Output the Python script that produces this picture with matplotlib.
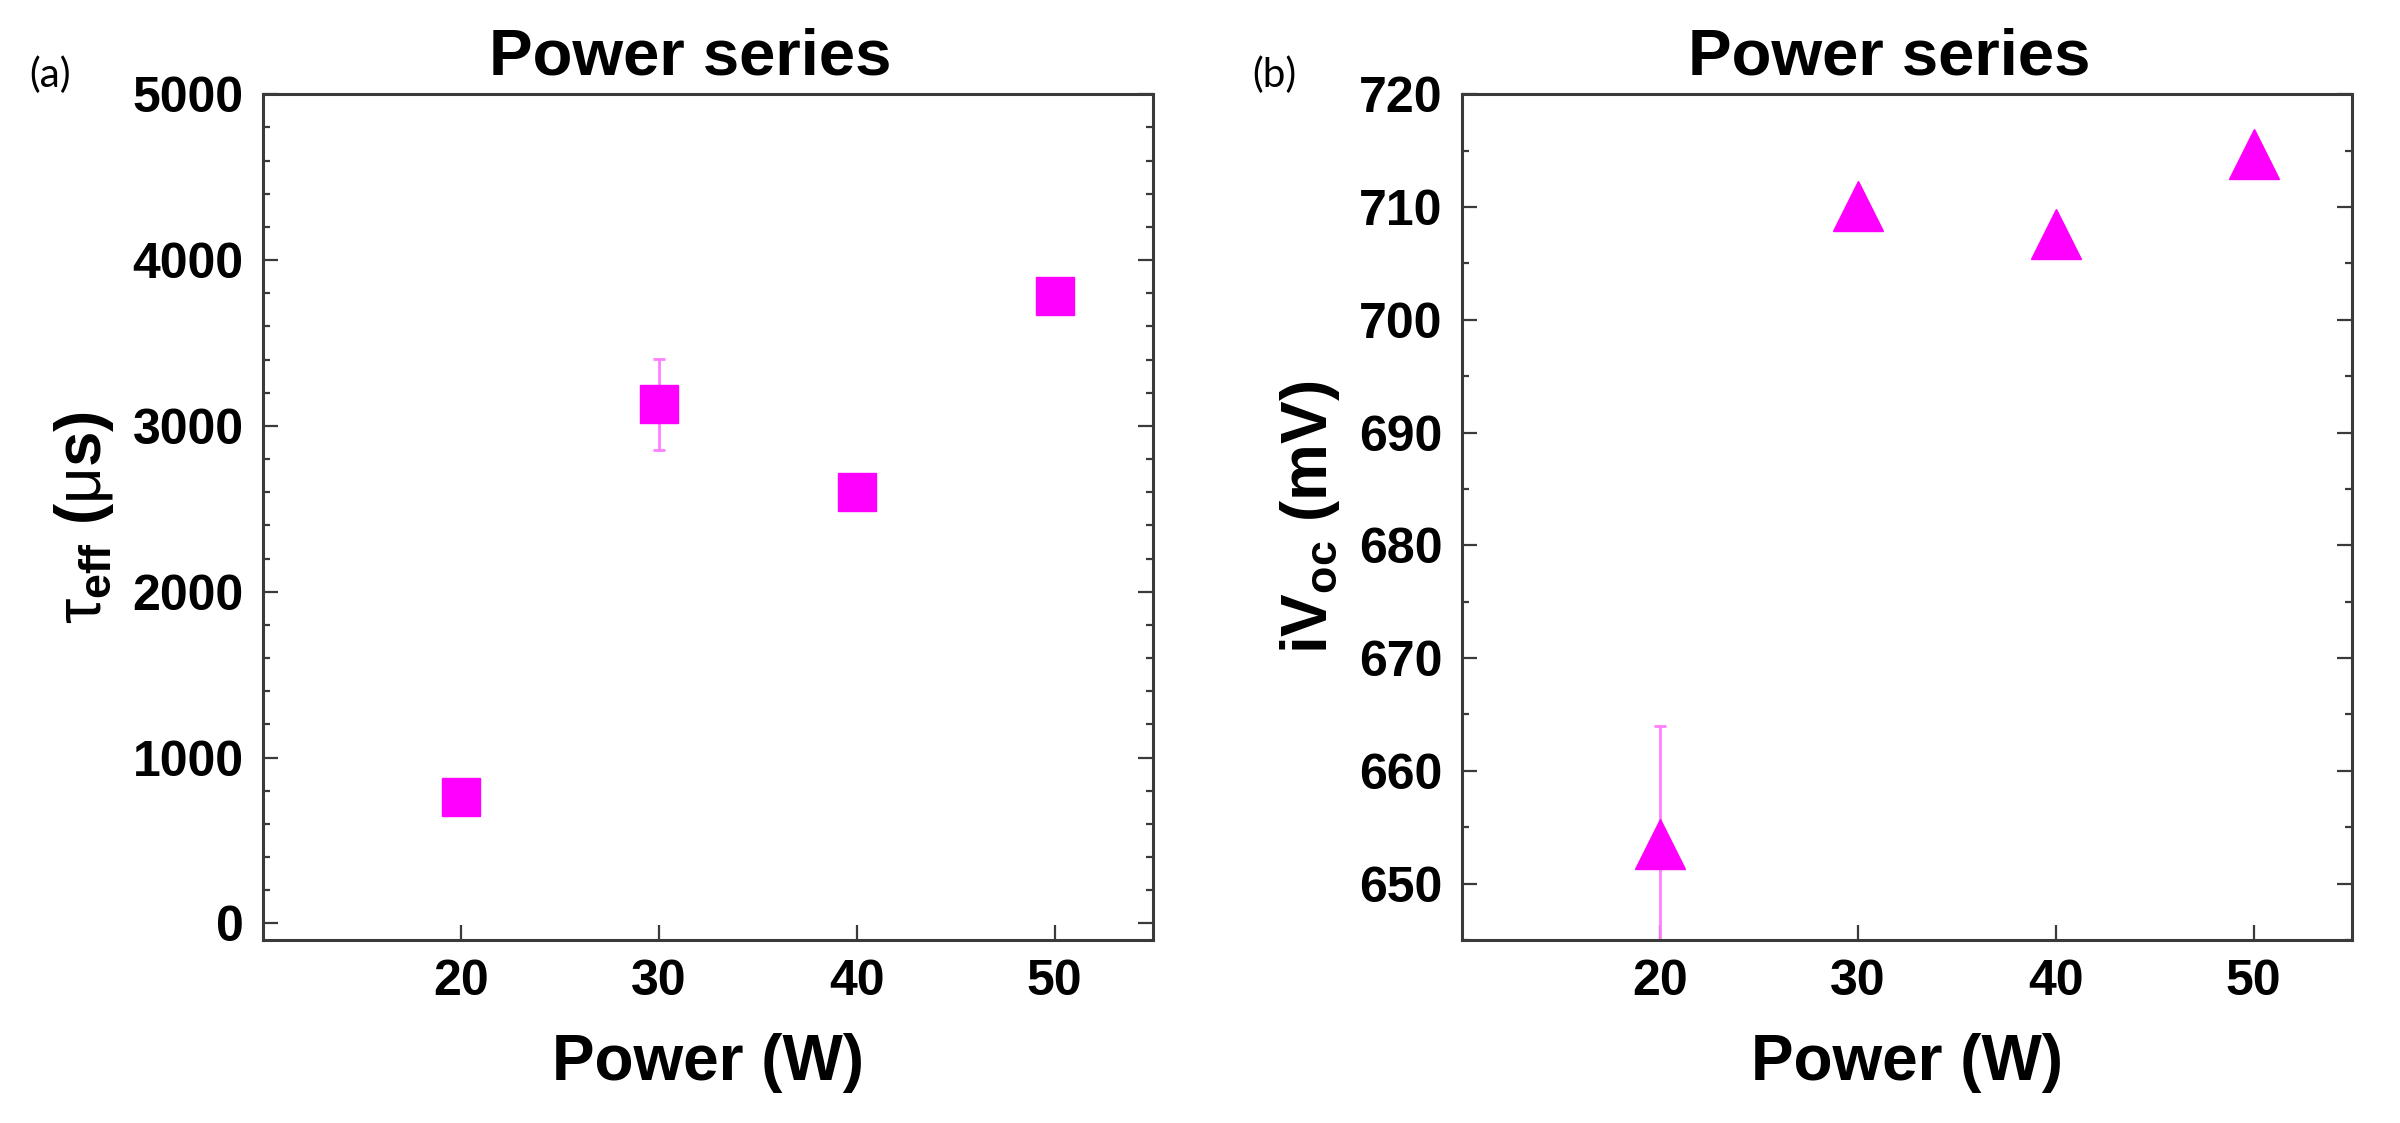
import numpy as np
import matplotlib.pyplot as plt
from matplotlib.ticker import MultipleLocator

plt.rcParams['font.family'] = ['Liberation Sans', 'DejaVu Sans']
plt.rcParams['mathtext.fontset'] = 'custom'
plt.rcParams['mathtext.rm'] = 'Liberation Sans'
plt.rcParams['mathtext.it'] = 'Liberation Sans'
plt.rcParams['mathtext.bf'] = 'Liberation Sans:bold'

# data
power = [20, 30, 40, 50]
tau_eff = [761, 3130, 2601, 3783]
tau_err = [0, 276, 0, 0]
ivoc = [653.5, 710.1, 707.6, 714.7]
ivoc_err = [10.5, 0, 0, 0]

magenta = '#FF00FF'
err_col = '#FF7FFF'
spine_col = '#3a3a3a'

fig = plt.figure(figsize=(24, 11.23), dpi=100)
ax1 = fig.add_axes([0.1096, 0.163, 0.371, 0.753])
ax2 = fig.add_axes([0.6092, 0.163, 0.371, 0.753])


def style(ax, ymin, ymax, major, minor):
    ax.set_xlim(10, 55)
    ax.set_ylim(ymin, ymax)
    ax.set_xticks(power)
    ax.yaxis.set_major_locator(MultipleLocator(major))
    ax.yaxis.set_minor_locator(MultipleLocator(minor))
    for s in ax.spines.values():
        s.set_color(spine_col)
        s.set_linewidth(2.2)
    ax.tick_params(which='both', direction='in', right=True, top=False,
                   color=spine_col, width=1.6, labelsize=36, pad=14)
    ax.tick_params(which='major', length=11)
    ax.tick_params(which='minor', length=5)
    for lab in ax.get_xticklabels() + ax.get_yticklabels():
        lab.set_fontweight('bold')
    ax.set_xlabel('Power (W)', fontsize=46, fontweight='bold', labelpad=20)
    ax.set_title('Power series', fontsize=47, fontweight='bold', pad=14, x=0.48)


ax1.errorbar(power, tau_eff, yerr=tau_err, fmt='s', ms=28, color=magenta,
             ecolor=err_col, elinewidth=2, capsize=4, capthick=2)
style(ax1, -100, 5000, 1000, 200)
ax1.set_ylabel(r'$\tau_{\mathbf{eff}}$ ($\mu$s)', fontsize=46, fontweight='bold', labelpad=12)

ax2.errorbar(power, ivoc, yerr=ivoc_err, fmt='^', ms=36, color=magenta,
             ecolor=err_col, elinewidth=2, capsize=4, capthick=2)
style(ax2, 645, 720, 10, 5)
ax2.set_ylabel(r'iV$_{\mathbf{oc}}$ (mV)', fontsize=46, fontweight='bold', labelpad=12)

fig.text(0.021, 0.933, '(a)', fontsize=29, family=['Lato', 'DejaVu Sans'], ha='center', va='center')
fig.text(0.531, 0.933, '(b)', fontsize=29, family=['Lato', 'DejaVu Sans'], ha='center', va='center')

fig.savefig('out.png', dpi=100)
